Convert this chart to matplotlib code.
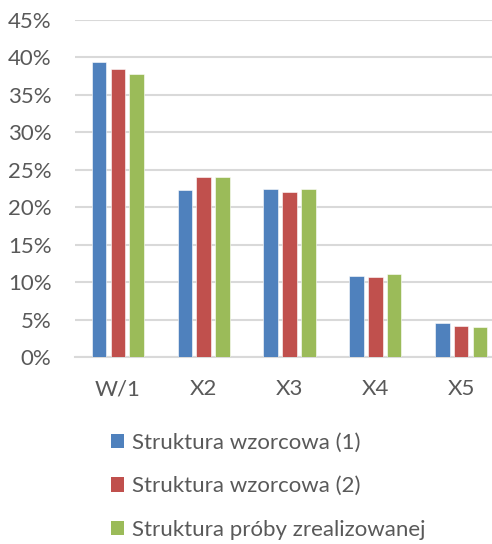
import matplotlib
matplotlib.use("Agg")
import matplotlib.pyplot as plt
from matplotlib.patches import Patch
import numpy as np

categories = ["W/1", "X2", "X3", "X4", "X5"]
series_names = ["Struktura wzorcowa (1)", "Struktura wzorcowa (2)", "Struktura próby zrealizowanej"]
s1 = [0.394, 0.223, 0.225, 0.108, 0.045]
s2 = [0.384, 0.241, 0.220, 0.107, 0.042]
s3 = [0.378, 0.240, 0.225, 0.111, 0.040]
colors = ["#4F81BD", "#C0504D", "#9BBB59"]
yticks = [0, 0.05, 0.10, 0.15, 0.20, 0.25, 0.30, 0.35, 0.40, 0.45]
ytick_labels = ["0%", "5%", "10%", "15%", "20%", "25%", "30%", "35%", "40%", "45%"]

plt.rcParams['font.family'] = ['Lato', 'DejaVu Sans']
txt = "#595959"

fig = plt.figure(figsize=(4.92, 5.44), dpi=100)
ax = fig.add_axes([75/492, 1-357/544, 1-75/492, (357-20)/544])

x = np.arange(len(categories))
bw = 0.17
step = 0.22
for i, (vals, c) in enumerate(zip([s1, s2, s3], colors)):
    ax.bar(x + (i-1)*step, vals, width=bw, color=c, edgecolor="white", linewidth=0.4, zorder=3)

ax.set_xlim(-0.5, 4.36)
ax.set_ylim(0, 0.45)
ax.set_yticks(yticks)
ax.set_yticklabels(ytick_labels)
ax.set_xticks(x)
ax.set_xticklabels(categories)
ax.grid(axis='y', color="#D9D9D9", linewidth=1.5, zorder=0)
for s in ["top", "right", "left"]:
    ax.spines[s].set_visible(False)
ax.spines["bottom"].set_color("#D9D9D9")
ax.spines["bottom"].set_linewidth(1.5)
ax.tick_params(axis='both', length=0, labelsize=16, colors=txt)
ax.tick_params(axis='y', pad=17)
ax.tick_params(axis='x', pad=16)

handles = [Patch(facecolor=c, edgecolor='none') for c in colors]
fig.legend(handles, series_names, loc='upper left', bbox_to_anchor=(111/492, 1-433/544),
           frameon=False, fontsize=16, labelcolor=txt, handlelength=0.6, handleheight=0.6,
           handletextpad=0.35, labelspacing=1.05, borderaxespad=0, borderpad=0)

fig.savefig("out.png", dpi=100)
